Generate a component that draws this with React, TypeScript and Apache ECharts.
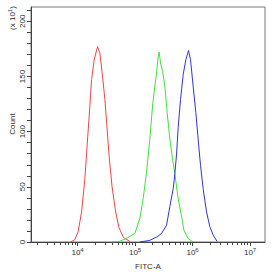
import React, { useEffect, useRef } from "react";
import * as echarts from "echarts";

// x values are log10(FITC-A), y values are counts in units of 10^1
const redX = [3.883, 3.95, 4.01, 4.07, 4.127, 4.174, 4.214, 4.243, 4.289, 4.318, 4.348, 4.388, 4.428, 4.475, 4.51, 4.55, 4.6, 4.66, 4.72, 4.8, 4.91];
const redY = [0, 2, 9.4, 27.4, 57.3, 93.3, 123.2, 147.2, 165, 171.2, 177, 171.2, 153.2, 129.2, 105, 77, 50, 28, 13, 4, 0.5];

const greenX = [4.597, 4.736, 4.852, 4.997, 5.083, 5.141, 5.2, 5.257, 5.304, 5.344, 5.374, 5.402, 5.419, 5.443, 5.478, 5.518, 5.558, 5.605, 5.652, 5.692, 5.75, 5.809, 5.849, 5.923, 6.005];
const greenY = [0, 0.6, 3.3, 7.8, 21.3, 39.3, 63.3, 93.3, 123.2, 141.2, 153.2, 168.2, 172.1, 162.2, 154.7, 141.2, 117.3, 93.3, 75.3, 61.8, 39.3, 23.1, 10.8, 3.3, 0];

const blueX = [5.083, 5.257, 5.397, 5.461, 5.548, 5.605, 5.663, 5.692, 5.722, 5.75, 5.791, 5.837, 5.883, 5.93, 5.965, 6.01, 6.057, 6.097, 6.139, 6.184, 6.243, 6.301, 6.358, 6.428];
const blueY = [0, 1.5, 5.1, 7.8, 15.3, 32.1, 48.3, 61.8, 79.8, 104, 129.2, 151.7, 165.2, 173.6, 165.2, 141.2, 117.3, 93.3, 69.2, 48.3, 27.3, 13.8, 6.3, 0.4];

const xDecades = [4, 5, 6, 7];
const minorMultipliers = [2, 3, 4, 5, 6, 7, 8, 9];
const yLabels = [0, 50, 100, 150, 200];
const yTickStep = 10;

const X_MIN = 3.19;
const X_MAX = 7.26;
const Y_MAX = 213;

const zip = (xs: number[], ys: number[]) => xs.map((x, i) => [x, ys[i]]);

export default function App() {
  const ref = useRef<HTMLDivElement>(null);
  useEffect(() => {
    if (!ref.current) return;
    const chart = echarts.init(ref.current, null, { renderer: "svg" });
    const minorTicks: number[] = [];
    [3, 4, 5, 6, 7].forEach((d) => {
      minorMultipliers.forEach((m) => {
        const v = d + Math.log10(m);
        if (v > X_MIN && v < X_MAX) minorTicks.push(v);
      });
    });
    const yTicks: number[] = [];
    for (let v = 0; v <= Y_MAX; v += yTickStep) yTicks.push(v);
    const font = "Liberation Sans, Arial, sans-serif";
    const axisColor = "#444";
    chart.setOption({
      animation: false,
      grid: {
        left: 31,
        right: 7,
        top: 7,
        bottom: 31,
        show: true,
        borderColor: "#777",
        borderWidth: 1,
        backgroundColor: "transparent",
      },
      xAxis: [
        {
          type: "value",
          min: X_MIN,
          max: X_MAX,
          splitLine: { show: false },
          axisLine: { lineStyle: { color: axisColor, width: 1 } },
          axisTick: { customValues: xDecades, length: 4, lineStyle: { color: axisColor } },
          axisLabel: {
            customValues: xDecades,
            margin: 5,
            formatter: (v: number) => `{b|10}{s|${Math.round(v)}}`,
            rich: {
              b: { fontSize: 8, fontFamily: font, color: "#333" },
              s: { fontSize: 6, fontFamily: font, color: "#333", padding: [0, 0, 4, 0] },
            },
          },
          name: "FITC-A",
          nameLocation: "middle",
          nameGap: 20,
          nameTextStyle: { fontSize: 8, fontFamily: font, color: "#333" },
        },
        {
          type: "value",
          min: X_MIN,
          max: X_MAX,
          position: "bottom",
          splitLine: { show: false },
          axisLine: { show: false },
          axisTick: { customValues: minorTicks, length: 3, lineStyle: { color: axisColor } },
          axisLabel: { show: false },
        },
      ],
      yAxis: {
        type: "value",
        min: 0,
        max: Y_MAX,
        splitLine: { show: false },
        axisLine: { show: true, lineStyle: { color: axisColor, width: 1 } },
        axisTick: { show: true, customValues: yTicks, length: 4, lineStyle: { color: axisColor } },
        axisLabel: {
          customValues: yLabels,
          rotate: 90,
          margin: 5,
          fontSize: 8,
          fontFamily: font,
          color: "#333",
        },
      },
      graphic: [
        {
          type: "text",
          x: 12,
          y: 124,
          rotation: Math.PI / 2,
          style: {
            text: "Count",
            fontSize: 8,
            fontFamily: font,
            fill: "#333",
            align: "center",
            verticalAlign: "middle",
          },
        },
        {
          type: "text",
          x: 12,
          y: 18,
          rotation: Math.PI / 2,
          style: {
            text: "(x 10{s|1})",
            fontSize: 8,
            fontFamily: font,
            fill: "#333",
            align: "center",
            verticalAlign: "middle",
            rich: {
              s: { fontSize: 6, fontFamily: font, fill: "#333", padding: [0, 0, 4, 0] },
            },
          },
        },
      ],
      series: [
        {
          type: "line",
          data: zip(redX, redY),
          showSymbol: false,
          lineStyle: { color: "#e84848", width: 1 },
          itemStyle: { color: "#e84848" },
        },
        {
          type: "line",
          data: zip(greenX, greenY),
          showSymbol: false,
          lineStyle: { color: "#3ee03e", width: 1 },
          itemStyle: { color: "#3ee03e" },
        },
        {
          type: "line",
          data: zip(blueX, blueY),
          showSymbol: false,
          lineStyle: { color: "#3434d4", width: 1 },
          itemStyle: { color: "#3434d4" },
        },
      ],
    });
    return () => chart.dispose();
  }, []);
  return (
    <div
      ref={ref}
      style={{ position: "fixed", left: 0, top: 0, width: 272, height: 275, background: "#fff" }}
    />
  );
}
